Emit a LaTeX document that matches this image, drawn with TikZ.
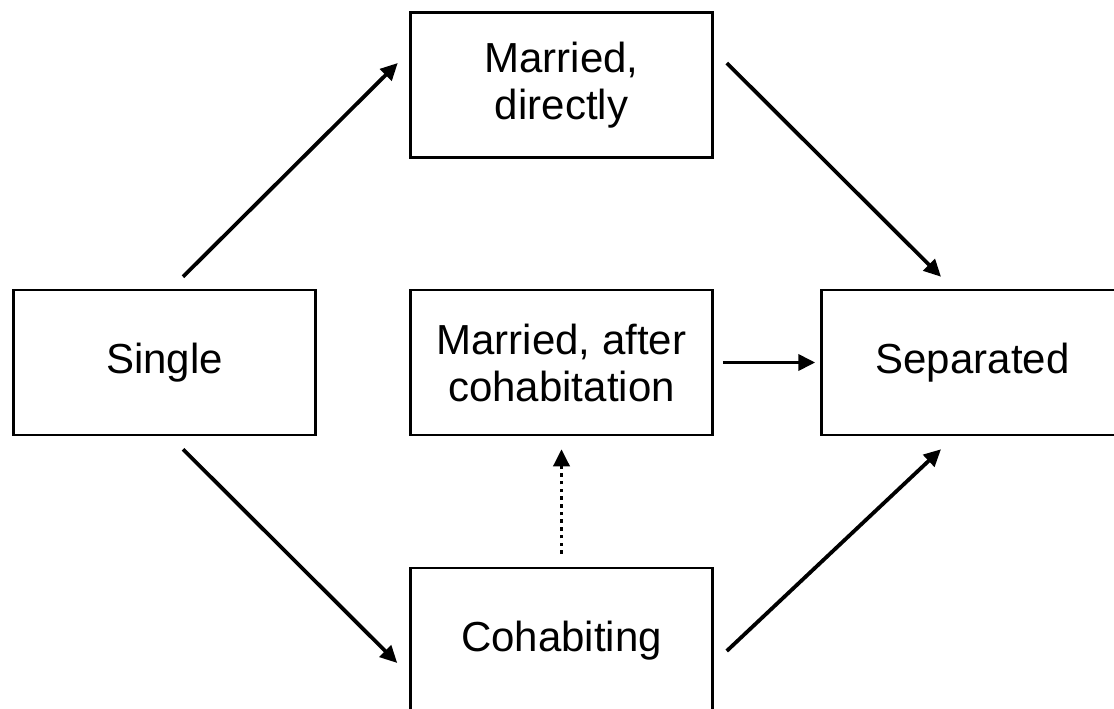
\documentclass[tikz,border=0pt]{standalone}
\usepackage{fontspec}
\setmainfont{Liberation Sans}
\usetikzlibrary{arrows.meta}
\begin{document}
\begin{tikzpicture}[x=1pt,y=-1pt,
  statebox/.style={draw=black, line width=2.5pt, minimum width=302pt, minimum height=145pt,
    align=center, inner sep=0pt, font=\fontsize{42}{47}\selectfont},
  conn/.style={line width=3.8pt, -{Triangle[length=17pt,width=16pt]}},
  dotconn/.style={line width=3.5pt, dash pattern=on 3.5pt off 4.2pt, -{Triangle[length=17pt,width=16pt]}}]
\clip (0,0) rectangle (1114,709);
\fill[white] (0,0) rectangle (1114,709);
\node[statebox] (S)   at (164.5,362.5) {Single};
\node[statebox] (MD)  at (561.5,85)    {Married,\\directly};
\node[statebox] (MA)  at (561.5,362.5) {Married, after\\cohabitation};
\node[statebox] (SEP) at (972.5,362.5) {Separated};
\node[statebox] (C)   at (561.5,640.5) {Cohabiting};
\draw[conn] ([shift={(18.5,-12)}]S.north) -- ([shift={(-11.5,-22)}]MD.west);
\draw[conn] ([shift={(13,-22)}]MD.east) -- ([shift={(-31.5,-12)}]SEP.north);
\draw[conn] ([shift={(18.5,13)}]S.south) -- ([shift={(-12,22.5)}]C.west);
\draw[conn] ([shift={(13,10.5)}]C.east) -- ([shift={(-31.5,13)}]SEP.south);
\draw[conn] ([shift={(9,0)}]MA.east) -- ([shift={(-5,0)}]SEP.west);
\draw[dotconn] ([shift={(0,-13)}]C.north) -- ([shift={(0,13)}]MA.south);
\end{tikzpicture}
\end{document}
